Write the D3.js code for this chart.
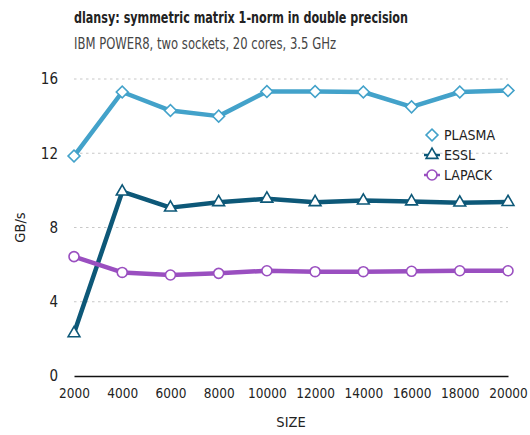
<!DOCTYPE html>
<html>
<head>
<meta charset="utf-8">
<script src="https://cdn.jsdelivr.net/npm/d3@7"></script>
<style>
  body { margin: 0; background: #fff; }
  svg text { font-family: "DejaVu Sans Condensed", "DejaVu Sans", sans-serif; font-stretch: condensed; fill: #222; }
</style>
</head>
<body>
<svg id="chart"></svg>
<script>
// Data
const sizes = [2000, 4000, 6000, 8000, 10000, 12000, 14000, 16000, 18000, 20000];
const plasma = [11.85, 15.3, 14.3, 14.0, 15.33, 15.33, 15.3, 14.5, 15.3, 15.38];
const essl = [2.3, 9.93, 9.07, 9.36, 9.55, 9.36, 9.45, 9.4, 9.34, 9.37];
const lapack = [6.43, 5.58, 5.44, 5.53, 5.67, 5.62, 5.62, 5.64, 5.67, 5.67];
const yTicks = [0, 4, 8, 12, 16];

const seriesList = [
  { name: "PLASMA", values: plasma, color: "#43a2ca", marker: "diamond" },
  { name: "ESSL", values: essl, color: "#0d5878", marker: "triangle" },
  { name: "LAPACK", values: lapack, color: "#9a4fc0", marker: "circle" },
];

const W = 530, H = 435;
const margin = { top: 79, right: 22, bottom: 59, left: 74 };
const width = W - margin.left - margin.right;
const height = H - margin.top - margin.bottom;

const root = d3.select("#chart").attr("width", W).attr("height", H);

root.append("text")
  .attr("x", 74).attr("y", 23)
  .style("font-size", "16px").style("font-weight", "bold")
  .attr("textLength", 334).attr("lengthAdjust", "spacingAndGlyphs")
  .text("dlansy: symmetric matrix 1-norm in double precision");
root.append("text")
  .attr("x", 74).attr("y", 49)
  .style("font-size", "15px").style("fill", "#444")
  .attr("textLength", 262).attr("lengthAdjust", "spacingAndGlyphs")
  .text("IBM POWER8, two sockets, 20 cores, 3.5 GHz");

const svg = root.append("g").attr("transform", `translate(${margin.left},${margin.top})`);

const x = d3.scaleLinear().domain([2000, 20000]).range([0, width]);
const y = d3.scaleLinear().domain([0, 16]).range([height, 0]);

// grid
svg.selectAll(".grid")
  .data(yTicks.filter((d) => d > 0))
  .enter()
  .append("line")
  .attr("x1", 0).attr("x2", width)
  .attr("y1", (d) => y(d)).attr("y2", (d) => y(d))
  .attr("stroke", "#c8c8c8").attr("stroke-width", 1.2)
  .attr("stroke-dasharray", "2.5,3.5");

// x axis
const xAxis = svg.append("g")
  .attr("transform", `translate(0,${height})`)
  .call(d3.axisBottom(x).tickValues(sizes).tickFormat(d3.format("d")).tickSize(0).tickPadding(12));
xAxis.select(".domain").attr("stroke", "#111").attr("stroke-width", 1.5);
xAxis.selectAll("text").style("font-size", "13.5px").style("fill", "#222");

// y axis
const yAxis = svg.append("g")
  .call(d3.axisLeft(y).tickValues(yTicks).tickSize(0).tickPadding(16));
yAxis.select(".domain").remove();
yAxis.selectAll("text").style("font-size", "15px").style("fill", "#222");

root.append("text")
  .attr("transform", `translate(25,${margin.top + height / 2}) rotate(-90)`)
  .attr("text-anchor", "middle")
  .style("font-size", "14.5px")
  .text("GB/s");
root.append("text")
  .attr("x", margin.left + width / 2).attr("y", 427)
  .attr("text-anchor", "middle")
  .style("font-size", "14.5px")
  .text("SIZE");

const symbols = {
  diamond: d3.symbol().type(d3.symbolSquare).size(70),
  triangle: d3.symbol().type(d3.symbolTriangle).size(60),
  circle: d3.symbol().type(d3.symbolCircle).size(78),
};

function marker(sel, s) {
  sel.attr("d", symbols[s.marker]())
    .attr("fill", "#fff")
    .attr("stroke", s.color)
    .attr("stroke-width", 1.6);
}

const line = d3.line().x((d, i) => x(sizes[i])).y((d) => y(d));

seriesList.forEach((s) => {
  svg.append("path")
    .datum(s.values)
    .attr("fill", "none")
    .attr("stroke", s.color)
    .attr("stroke-width", 4.5)
    .attr("stroke-linejoin", "round")
    .attr("d", line);
  svg.selectAll(null)
    .data(s.values)
    .enter()
    .append("path")
    .attr("transform", (d, i) =>
      `translate(${x(sizes[i])},${y(d)})` + (s.marker === "diamond" ? " rotate(45)" : ""))
    .call(marker, s);
});

// legend
const legend = root.append("g").attr("transform", "translate(432,135)");
seriesList.forEach((s, i) => {
  const g = legend.append("g").attr("transform", `translate(0,${i * 20})`);
  if (s.marker !== "diamond") {
    g.append("line").attr("x1", -8).attr("x2", 8)
      .attr("stroke", s.color).attr("stroke-width", 2.5);
  }
  g.append("path")
    .attr("transform", s.marker === "diamond" ? "rotate(45)" : null)
    .call(marker, s);
  g.append("text")
    .attr("x", 12).attr("y", 5)
    .style("font-size", "14px")
    .text(s.name);
});
</script>
</body>
</html>
